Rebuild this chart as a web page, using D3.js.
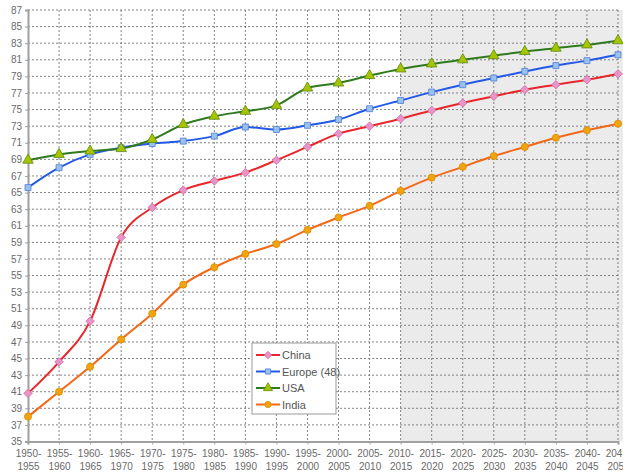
<!DOCTYPE html>
<html><head><meta charset="utf-8">
<script src="https://cdn.jsdelivr.net/npm/d3@7"></script>
<style>body{margin:0;background:#fff}svg{display:block}</style>
</head><body>
<svg id="c" width="623" height="473"></svg>
<script>
const periods = ["1950-1955","1955-1960","1960-1965","1965-1970","1970-1975","1975-1980","1980-1985","1985-1990","1990-1995","1995-2000","2000-2005","2005-2010","2010-2015","2015-2020","2020-2025","2025-2030","2030-2035","2035-2040","2040-2045","2045-2050"];
const china  = [40.8,44.6,49.5,59.6,63.2,65.3,66.4,67.4,68.9,70.5,72.1,73.0,73.9,74.9,75.8,76.6,77.4,78.0,78.6,79.3];
const europe = [65.6,68.0,69.6,70.4,70.9,71.2,71.8,72.9,72.6,73.1,73.8,75.1,76.1,77.1,78.0,78.8,79.6,80.3,80.9,81.6];
const usa    = [68.9,69.6,70.0,70.3,71.4,73.2,74.2,74.8,75.5,77.6,78.2,79.1,79.9,80.5,81.0,81.5,82.0,82.4,82.8,83.3];
const india  = [38.0,41.0,44.0,47.3,50.4,53.9,56.0,57.6,58.8,60.5,62.0,63.4,65.2,66.8,68.1,69.4,70.5,71.6,72.5,73.3];
const yTicks = d3.range(35, 88, 2);
const projectionStart = "2010-2015";

const series = [
  {name:"China", values:china, line:"#e8262c", fill:"#e894c8", stroke:"#d070a8", sym:d3.symbolSquare, rot:45, size:36},
  {name:"Europe (48)", values:europe, line:"#2458e6", fill:"#9cc0ec", stroke:"#4c80d8", sym:d3.symbolSquare, rot:0, size:36},
  {name:"USA", values:usa, line:"#2f7a1e", fill:"#a8c400", stroke:"#5a8a10", sym:d3.symbolTriangle, rot:0, size:48},
  {name:"India", values:india, line:"#f26818", fill:"#f0a410", stroke:"#d88a00", sym:d3.symbolCircle, rot:0, size:40}
];

const svg = d3.select("#c");
const L = 28, R = 618, T = 10, B = 441.5;
const x = d3.scalePoint().domain(periods).range([L, R]);
const y = d3.scaleLinear().domain([35, 87]).range([B, T]);

// projection shading
svg.append("rect").attr("x", x(projectionStart)).attr("y", T)
  .attr("width", 623 - x(projectionStart)).attr("height", B - T).attr("fill", "#ebebeb");

// grid
const g = svg.append("g");
g.selectAll(".hg").data(yTicks.filter(d=>d>35)).join("line")
  .attr("x1", L).attr("x2", R).attr("y1", d=>y(d)).attr("y2", d=>y(d))
  .attr("stroke", "#666").attr("stroke-width", 0.8).attr("stroke-dasharray", "2,2");
g.selectAll(".vg").data(periods.slice(1)).join("line")
  .attr("x1", d=>x(d)).attr("x2", d=>x(d)).attr("y1", T).attr("y2", B)
  .attr("stroke", "#666").attr("stroke-width", 0.8).attr("stroke-dasharray", "2,2");

// axes
const yAxis = svg.append("g").attr("transform", `translate(${L},0)`)
  .call(d3.axisLeft(y).tickValues(yTicks).tickSize(3).tickPadding(3));
const xAxis = svg.append("g").attr("transform", `translate(0,${B})`)
  .call(d3.axisBottom(x).tickSize(3).tickPadding(4).tickFormat(""));
[yAxis, xAxis].forEach(a => {
  a.select(".domain").attr("stroke", "#a0a0a0").attr("stroke-width", 2);
  a.selectAll(".tick line").attr("stroke", "#a0a0a0");
  a.selectAll("text").attr("fill", "#6a6a6a").style("font-family", "Liberation Sans, Arial, sans-serif").style("font-size", "10px");
});
xAxis.selectAll(".tick").each(function(d){
  const parts = d.split("-");
  const t = d3.select(this).append("text").attr("fill", "#6a6a6a")
    .attr("text-anchor", "middle").style("font-family", "Liberation Sans, Arial, sans-serif").style("font-size", "10px");
  t.append("tspan").attr("x", 0).attr("y", 15).text(parts[0] + "-");
  t.append("tspan").attr("x", 0).attr("y", 28).text(parts[1]);
});

// lines
const lineGen = d3.line().x((d,i)=>x(periods[i])).y(d=>y(d)).curve(d3.curveMonotoneX);
series.forEach(s => {
  svg.append("path").datum(s.values).attr("d", lineGen)
    .attr("fill", "none").attr("stroke", s.line).attr("stroke-width", 2);
});
series.forEach(s => {
  const sym = d3.symbol().type(s.sym).size(s.size);
  svg.append("g").selectAll("path").data(s.values).join("path")
    .attr("d", sym).attr("transform", (d,i)=>`translate(${x(periods[i])},${y(d)}) rotate(${s.rot})`)
    .attr("fill", s.fill).attr("stroke", s.stroke).attr("stroke-width", 0.8);
});

// legend
const lg = svg.append("g").attr("transform", "translate(252,343)");
lg.append("rect").attr("width", 84).attr("height", 71).attr("fill", "#fff").attr("stroke", "#999");
series.forEach((s, i) => {
  const yy = 12 + i * 16.5;
  lg.append("line").attr("x1", 4).attr("x2", 28).attr("y1", yy).attr("y2", yy).attr("stroke", s.line).attr("stroke-width", 2);
  lg.append("path").attr("d", d3.symbol().type(s.sym).size(s.size * 0.75)).attr("transform", `translate(16,${yy}) rotate(${s.rot})`)
    .attr("fill", s.fill).attr("stroke", s.stroke).attr("stroke-width", 0.8);
  lg.append("text").attr("x", 30).attr("y", yy + 4).text(s.name)
    .attr("fill", "#555").style("font-family", "Liberation Sans, Arial, sans-serif").style("font-size", "11px");
});
</script>
</body></html>
